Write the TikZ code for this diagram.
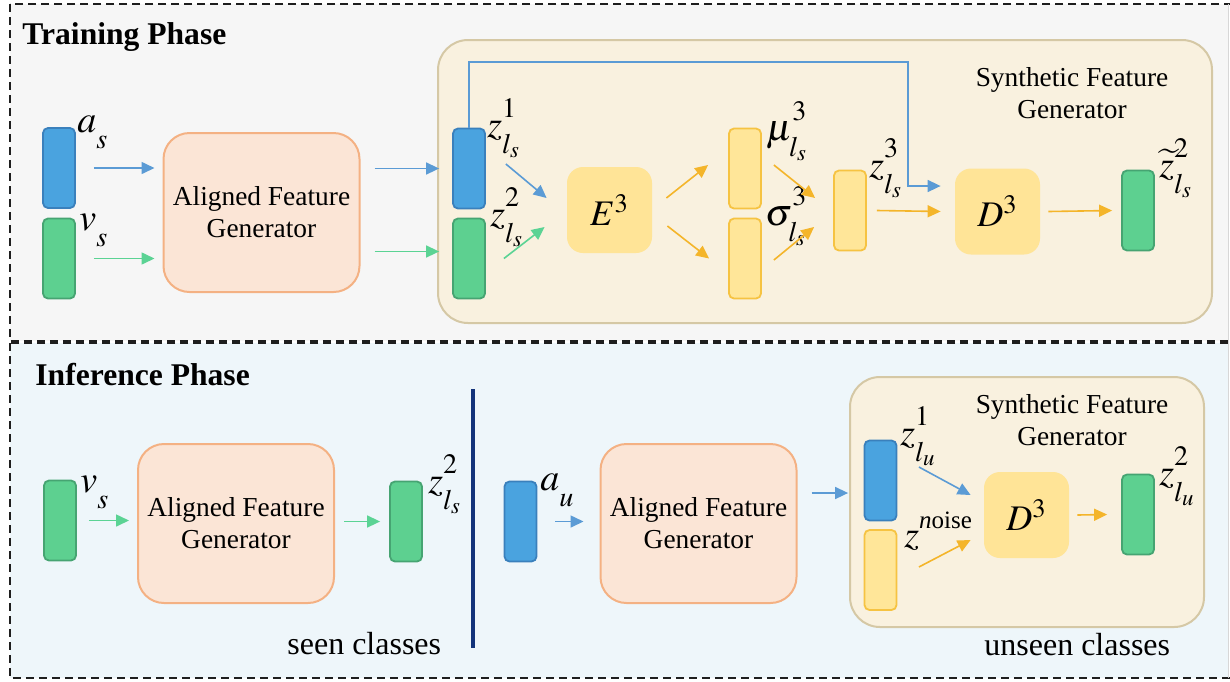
\documentclass[tikz,border=0pt]{standalone}
\usepackage{mathptmx}
\usepackage{fontspec}
\setmainfont{Liberation Serif}
\usepackage{tikz}
\usetikzlibrary{positioning, arrows.meta, calc}
\definecolor{TrainBg}{RGB}{246,246,246}
\definecolor{InferBg}{RGB}{238,246,250}
\definecolor{PanelLine}{RGB}{30,30,30}
\definecolor{EdgeGray}{RGB}{215,215,215}
\definecolor{BarBlue}{RGB}{74,163,223}
\definecolor{BarBlueLine}{RGB}{58,128,188}
\definecolor{BarGreen}{RGB}{93,208,144}
\definecolor{BarGreenLine}{RGB}{70,164,114}
\definecolor{BarYellow}{RGB}{255,230,153}
\definecolor{BarYellowLine}{RGB}{246,195,66}
\definecolor{AlignFill}{RGB}{251,229,214}
\definecolor{AlignLine}{RGB}{244,177,131}
\definecolor{SynFill}{RGB}{249,241,223}
\definecolor{SynLine}{RGB}{213,200,165}
\definecolor{CodeFill}{RGB}{255,228,151}
\definecolor{ArrowBlue}{RGB}{91,155,213}
\definecolor{ArrowGreen}{RGB}{91,211,148}
\definecolor{ArrowOrange}{RGB}{244,181,42}
\definecolor{DivideColor}{RGB}{19,51,122}
\newcommand{\featvar}[3]{#1^{\raisebox{3pt}{$\scriptstyle #2$}}_{\raisebox{-3.5pt}{$\scriptstyle #3$}}}
\tikzset{
  bar/.style={rectangle, rounded corners=2.5pt, minimum width=16pt, minimum height=40pt, inner sep=0pt, line width=0.9pt},
  blue bar/.style={bar, fill=BarBlue, draw=BarBlueLine},
  green bar/.style={bar, fill=BarGreen, draw=BarGreenLine},
  yellow bar/.style={bar, fill=BarYellow, draw=BarYellowLine},
  aligned gen/.style={rectangle, rounded corners=13pt, fill=AlignFill, draw=AlignLine, line width=1pt, minimum width=98pt, minimum height=79.5pt, align=center, font=\fontsize{13.7}{16}\selectfont},
  coder/.style={rectangle, rounded corners=8pt, fill=CodeFill, minimum width=42.5pt, minimum height=43pt, font=\fontsize{18}{20}\selectfont},
  syn box/.style={fill=SynFill, draw=SynLine, line width=1pt, rounded corners=15pt},
  syn text/.style={align=center, font=\fontsize{13.7}{16}\selectfont},
  lbl/.style={inner sep=0pt, anchor=base west, font=\fontsize{19}{21}\selectfont},
  phase/.style={inner sep=0pt, anchor=base west, font=\fontsize{15.8}{18}\selectfont\bfseries},
  note/.style={inner sep=0pt, anchor=base west, font=\fontsize{16}{18}\selectfont},
  panel/.style={draw=PanelLine, line width=1.2pt, dash pattern=on 4pt off 2.5pt},
  blue arrow/.style={-{Triangle[length=6.5pt,width=6pt]}, line width=0.8pt, ArrowBlue},
  green arrow/.style={-{Triangle[length=6.5pt,width=6pt]}, line width=0.8pt, ArrowGreen},
  orange arrow/.style={-{Triangle[length=6.5pt,width=6pt]}, line width=0.8pt, ArrowOrange}
}

\begin{document}
\begin{tikzpicture}[x=0.5pt, y=-0.5pt]
    \useasboundingbox[fill=white] (0,0) rectangle (1230,681);

    % Panels
    \fill[TrainBg] (10,4) rectangle (1229,341);
    \fill[InferBg] (10,343) rectangle (1229,678);
    \draw[panel] (10,4) rectangle (1233,341);
    \draw[panel] (10,343) rectangle (1233,678);
    \draw[EdgeGray, line width=0.8pt] (1228.5,4) -- (1228.5,678);
    \node[phase] (train) at (22,44) {Training Phase};
    \node[phase] (infer) at (35,385) {Inference Phase};

    % Training: inputs and aligned generator
    \node[blue bar] (as) at (59,168) {};
    \node[green bar] (vs) at (59,258.5) {};
    \node[lbl] (aslbl) at (77,132) {$\featvar{a}{}{s}$};
    \node[lbl] (vslbl) at (79,230) {$\featvar{v}{}{s}$};
    \node[aligned gen] (afgT) at (261.5,212.5) {Aligned Feature\\Generator};
    \draw[blue arrow] ([xshift=9pt]as.east) -- ([xshift=-4pt]as.east -| afgT.west);
    \draw[green arrow] ([xshift=9pt]vs.east) -- ([xshift=-4pt]vs.east -| afgT.west);

    % Training: synthetic feature generator
    \draw[syn box] (438,40) rectangle (1212,323);
    \node[syn text] (synT) at (1072,93) {Synthetic Feature\\Generator};
    \node[blue bar] (z1) at (469,168.5) {};
    \node[green bar] (z2) at (469,258.5) {};
    \node[lbl] (z1lbl) at (487,137) {$\featvar{z}{1}{l_s}$};
    \node[lbl] (z2lbl) at (490,226) {$\featvar{z}{2}{l_s}$};
    \draw[blue arrow] ([xshift=7pt]afgT.east |- z1.west) -- ([xshift=-6.5pt]z1.west);
    \draw[green arrow] ([xshift=7pt,yshift=3.5pt]afgT.east |- z2.west) -- ([xshift=-6.5pt,yshift=3.5pt]z2.west);

    \node[coder] (enc) at (609.5,210) {$E^{3}$};
    \draw[blue arrow] ([xshift=10pt,yshift=2.25pt]z1.east) -- ([xshift=-10pt,yshift=6pt]enc.west);
    \draw[green arrow] ([xshift=9pt]z2.east) -- ([xshift=-11pt,yshift=-8.5pt]enc.west);

    \node[yellow bar] (mu) at (745,168.5) {};
    \node[yellow bar] (sigma) at (745,258.5) {};
    \node[lbl] (mulbl) at (766,140) {$\featvar{\mu}{3}{l_s}$};
    \node[lbl] (sigmalbl) at (765,225) {$\featvar{\sigma}{3}{l_s}$};
    \draw[orange arrow] ([xshift=7pt,yshift=6pt]enc.east) -- ([xshift=-10pt,yshift=1.75pt]mu.west);
    \draw[orange arrow] ([xshift=7.5pt,yshift=-8pt]enc.east) -- ([xshift=-9.5pt]sigma.west);

    \node[yellow bar] (z3) at (850,210.5) {};
    \node[lbl] (z3lbl) at (869,177) {$\featvar{z}{3}{l_s}$};
    \draw[orange arrow] ([xshift=6pt,yshift=1.75pt]mu.east) -- ([xshift=-9pt,yshift=6.25pt]z3.west);
    \draw[orange arrow] ([xshift=6pt,yshift=-0.75pt]sigma.east) -- ([xshift=-9.5pt,yshift=-8.25pt]z3.west);

    \node[coder] (dec) at (997.5,211.5) {$D^{3}$};
    \node[green bar] (zout) at (1138,210.5) {};
    \node[lbl] (zoutlbl) at (1159,177) {$\featvar{\widetilde{z}}{2}{l_s}$};
    \draw[orange arrow] ([xshift=5pt]z3.east) -- ([xshift=-7pt]dec.west);
    \draw[orange arrow] ([xshift=4pt]dec.east) -- ([xshift=-4.5pt]zout.west);

    % skip connection z1 -> D3
    \coordinate (skipturn) at (908,62);
    \draw[blue arrow] (z1.north) |- (skipturn) |- ([xshift=-7pt,yshift=12.75pt]dec.west);

    % Inference: seen classes
    \node[green bar] (vsI) at (60,520.5) {};
    \node[lbl] (vsIlbl) at (80,492) {$\featvar{v}{}{s}$};
    \node[aligned gen] (afgI1) at (236,523.5) {Aligned Feature\\Generator};
    \node[green bar] (z2I) at (406,521.5) {};
    \node[lbl] (z2Ilbl) at (428,493) {$\featvar{z}{2}{l_s}$};
    \draw[green arrow] ([xshift=6pt]vsI.east) -- ([xshift=-4pt]vsI.east -| afgI1.west);
    \draw[green arrow] ([xshift=4.5pt]afgI1.east |- z2I.west) -- ([xshift=-4.5pt]z2I.west);
    \node[note] (seen) at (287,654) {seen classes};

    % divider
    \coordinate (divtop) at (473,389);
    \coordinate (divbot) at (473,648);
    \draw[DivideColor, line width=2pt] (divtop) -- (divbot);

    % Inference: unseen classes
    \node[blue bar] (auI) at (520.5,521.5) {};
    \node[lbl] (auIlbl) at (540,490) {$\featvar{a}{}{u}$};
    \node[aligned gen] (afgI2) at (698.5,523.5) {Aligned Feature\\Generator};
    \draw[blue arrow] ([xshift=9pt]auI.east) -- ([xshift=-8pt]auI.east -| afgI2.west);

    \draw[syn box] (850,377) rectangle (1204,627);
    \node[syn text] (synI) at (1072,420) {Synthetic Feature\\Generator};
    \node[blue bar] (z1u) at (880.5,480.5) {};
    \node[yellow bar] (noise) at (880.5,570) {};
    \node[lbl] (z1ulbl) at (900,445) {$\featvar{z}{1}{l_u}$};
    \node[lbl] (noiselbl) at (904,547) {$z^{\raisebox{2.5pt}{\fontsize{12.5}{14}\selectfont\textit{n}oise}}$};
    \draw[blue arrow] ([xshift=7pt,yshift=-6.25pt]afgI2.east |- z1u.west) -- ([xshift=-7.75pt,yshift=-6.25pt]z1u.west);

    \node[coder] (decI) at (1026.5,515) {$D^{3}$};
    \node[green bar] (zoutI) at (1138,514.5) {};
    \node[lbl] (zoutIlbl) at (1159,485) {$\featvar{z}{2}{l_u}$};
    \draw[blue arrow] ([xshift=10.75pt,yshift=6.75pt]z1u.east) -- ([xshift=-6.5pt,yshift=10pt]decI.west);
    \draw[orange arrow] ([xshift=10.75pt,yshift=1.5pt]noise.east) -- ([xshift=-6.5pt,yshift=-12.5pt]decI.west);
    \draw[orange arrow] ([xshift=4pt]decI.east) -- ([xshift=-7pt]zoutI.west);
    \node[note] (unseen) at (984,655) {unseen classes};
\end{tikzpicture}
\end{document}
